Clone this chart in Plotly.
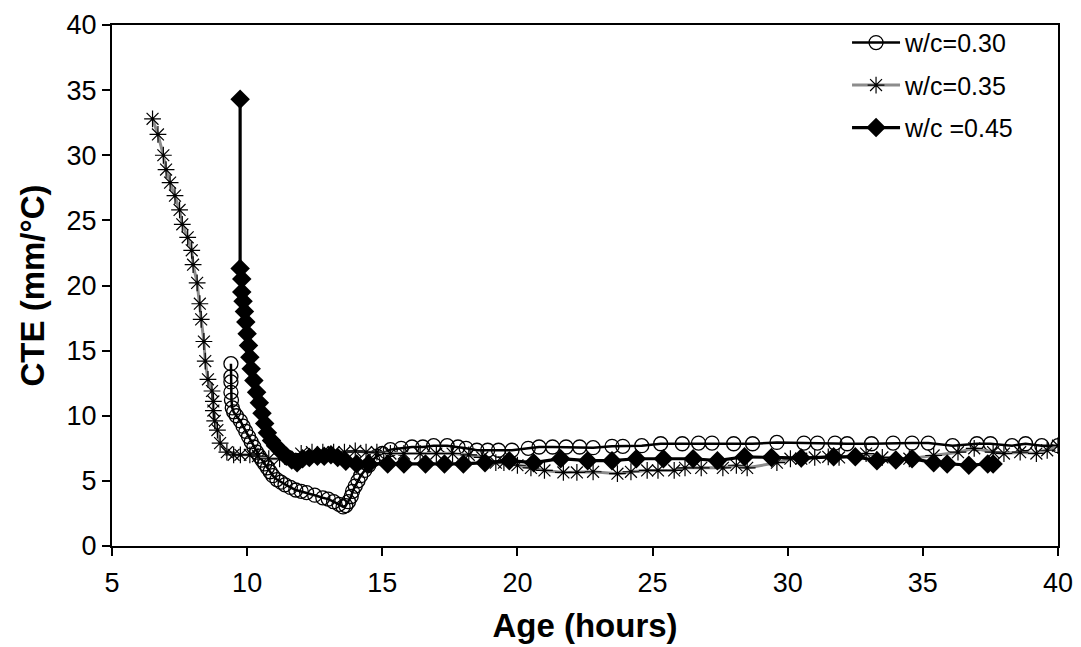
import plotly.graph_objects as go

# w/c = 0.30 (open circles)
x30 = [9.4, 9.4, 9.4, 9.4, 9.42, 9.45, 9.5, 9.6, 9.75, 9.85, 9.95, 10.05, 10.15, 10.25, 10.35,
       10.45, 10.55, 10.65, 10.75, 10.85, 10.95, 11.1, 11.25, 11.4, 11.6, 11.8, 12.0, 12.2, 12.5,
       12.8, 13.0, 13.2, 13.4, 13.55, 13.65, 13.75, 13.85, 13.9, 14.0, 14.1, 14.2, 14.35, 14.5,
       14.65, 14.8, 15.0, 15.3, 15.7, 16.1, 16.5, 16.9, 17.4, 17.8, 18.1, 18.5, 18.9, 19.3, 19.8,
       20.4, 20.8, 21.3, 21.8, 22.3, 22.8, 23.5, 23.9, 24.6, 25.3, 26.1, 26.7, 27.2, 28.0, 28.7,
       29.6, 30.6, 31.1, 31.75, 32.2, 33.1, 33.9, 34.6, 35.2, 36.1, 37.0, 37.5, 38.3, 38.8, 39.4, 40.0]
y30 = [14.0, 13.0, 12.6, 11.8, 11.2, 10.6, 10.3, 10.0, 9.6, 9.2, 8.8, 8.4, 8.0, 7.6, 7.2,
       6.9, 6.6, 6.3, 6.0, 5.7, 5.4, 5.1, 4.9, 4.7, 4.5, 4.3, 4.2, 4.1, 3.9,
       3.7, 3.6, 3.4, 3.2, 3.0, 3.1, 3.4, 3.8, 4.2, 4.6, 5.0, 5.4, 5.8, 6.2,
       6.6, 6.9, 7.1, 7.4, 7.5, 7.6, 7.6, 7.7, 7.7, 7.6, 7.5, 7.35, 7.35, 7.35, 7.35,
       7.5, 7.6, 7.6, 7.6, 7.6, 7.55, 7.65, 7.65, 7.7, 7.85, 7.85, 7.9, 7.9, 7.85, 7.85,
       7.95, 7.9, 7.9, 7.9, 7.85, 7.85, 7.9, 7.9, 7.9, 7.7, 7.85, 7.85, 7.7, 7.85, 7.7, 7.7]

# w/c = 0.35 (asterisks, grey line)
x35 = [6.5, 6.7, 6.9, 7.0, 7.15, 7.33, 7.5, 7.6, 7.8, 7.95, 8.0, 8.15, 8.25, 8.3, 8.4, 8.45,
       8.55, 8.7, 8.75, 8.75, 8.8, 8.9, 9.0, 9.25, 9.5, 9.75, 10.1, 10.4, 10.8, 11.2, 11.6, 12.0,
       12.4, 12.8, 13.2, 13.6, 14.0, 14.4, 14.8, 15.3, 15.8, 16.4, 17.0, 17.6, 18.2, 18.7, 19.2,
       19.5, 20.0, 20.5, 21.0, 21.7, 22.2, 22.8, 23.7, 24.2, 24.8, 25.2, 25.8, 26.2, 26.8, 27.6,
       28.1, 28.5, 29.6, 30.1, 30.5, 31.0, 31.5, 31.9, 32.9, 33.5, 34.5, 35.4, 36.3, 36.9, 37.6,
       38.0, 38.6, 39.2, 39.6, 40.0]
y35 = [32.8, 31.6, 30.0, 28.9, 27.9, 26.9, 25.8, 24.7, 23.7, 22.7, 21.6, 20.2, 18.6, 17.4, 15.7, 14.2,
       12.8, 11.9, 11.1, 10.4, 9.6, 8.9, 7.9, 7.2, 7.0, 7.0, 7.0, 6.9, 6.7, 6.7, 6.7, 7.1,
       7.2, 7.2, 7.2, 7.2, 7.3, 7.2, 7.2, 7.1, 7.1, 7.1, 7.1, 7.1, 7.0, 6.8, 6.4,
       6.4, 6.2, 6.0, 5.8, 5.65, 5.65, 5.7, 5.55, 5.7, 5.8, 5.8, 5.8, 6.0, 6.0, 6.0,
       6.2, 6.0, 6.4, 6.7, 6.7, 6.8, 6.85, 6.8, 7.1, 6.8, 6.7, 6.95, 7.2, 7.5, 7.2,
       7.1, 7.2, 7.1, 7.35, 7.7]

# w/c = 0.45 (filled diamonds)
x45 = [9.74, 9.74, 9.8, 9.8, 9.85, 9.9, 9.95, 10.0, 10.05, 10.1, 10.15, 10.25, 10.35, 10.45,
       10.55, 10.65, 10.75, 10.9, 11.05, 11.25, 11.45, 11.65, 11.85, 12.05, 12.3, 12.6, 12.85,
       13.1, 13.35, 13.65, 14.05, 14.5, 15.2, 15.8, 16.6, 17.3, 18.0, 18.8, 19.7, 20.6, 21.6,
       22.6, 23.5, 24.4, 25.4, 26.5, 27.4, 28.4, 29.4, 30.5, 31.7, 32.5, 33.3, 34.0, 34.6, 35.4,
       35.9, 36.7, 37.4, 37.6]
y45 = [34.3, 21.3, 20.5, 19.5, 18.8, 18.0, 17.2, 16.3, 15.4, 14.5, 13.6, 12.7, 11.8, 11.0,
       10.2, 9.4, 8.7, 8.1, 7.7, 7.3, 6.9, 6.6, 6.4, 6.7, 6.8, 6.9, 6.9,
       7.0, 6.8, 6.5, 6.3, 6.3, 6.3, 6.3, 6.3, 6.3, 6.3, 6.4, 6.55, 6.4, 6.7,
       6.55, 6.55, 6.7, 6.7, 6.7, 6.55, 6.85, 6.8, 6.75, 6.85, 6.85, 6.55, 6.6, 6.7, 6.4,
       6.3, 6.2, 6.3, 6.3]

x_ticks = [5, 10, 15, 20, 25, 30, 35, 40]
y_ticks = [0, 5, 10, 15, 20, 25, 30, 35, 40]

FONT = "Arial, Liberation Sans, sans-serif"

fig = go.Figure()
fig.add_trace(go.Scatter(
    x=x30, y=y30, mode="lines+markers", name="w/c=0.30", legendgroup="a",
    line=dict(color="black", width=2.5),
    marker=dict(symbol="circle-open", size=14, color="black", line=dict(width=1.3, color="black")),
))
fig.add_trace(go.Scatter(
    x=x35, y=y35, mode="lines+markers", name="w/c=0.35", legendgroup="b",
    line=dict(color="#8c8c8c", width=3),
    marker=dict(symbol="asterisk-open", size=14, color="black", line=dict(width=1.2, color="black")),
))
fig.add_trace(go.Scatter(
    x=x45, y=y45, mode="lines+markers", name="w/c =0.45", legendgroup="c",
    line=dict(color="black", width=3.2),
    marker=dict(symbol="diamond", size=15, color="black"),
))

axis_common = dict(
    showgrid=False, zeroline=False, showline=True, mirror=True,
    linecolor="black", linewidth=2, ticks="outside", ticklen=8, tickwidth=1.5,
    tickcolor="black", tickfont=dict(size=27, family=FONT, color="black"),
    automargin=False,
)

# page body has an 8px margin: figure drawn at (8, 8)
fig.update_layout(
    template="none",
    width=1073, height=639,
    margin=dict(l=104, r=23, t=14, b=101),
    paper_bgcolor="white", plot_bgcolor="white",
    font=dict(family=FONT, size=27, color="black"),
    showlegend=True,
    legend=dict(x=0.777, y=1.01, xanchor="left", yanchor="top",
                font=dict(size=25, family=FONT, color="black"),
                bgcolor="rgba(255,255,255,0)", borderwidth=0, itemwidth=48,
                traceorder="grouped", tracegroupgap=7),
    xaxis=dict(range=[5, 40], tickvals=x_ticks, ticktext=[str(v) for v in x_ticks],
               ticklabelstandoff=4,
               title=dict(text="<b>Age (hours)</b>", font=dict(size=33, family=FONT, color="black"),
                          standoff=16),
               **axis_common),
    yaxis=dict(range=[0, 40], tickvals=y_ticks, ticktext=[str(v) for v in y_ticks],
               title=dict(text="<b>CTE (mm/°C)</b>", font=dict(size=33, family=FONT, color="black"),
                          standoff=12),
               **axis_common),
)

fig.write_html("out.html")
